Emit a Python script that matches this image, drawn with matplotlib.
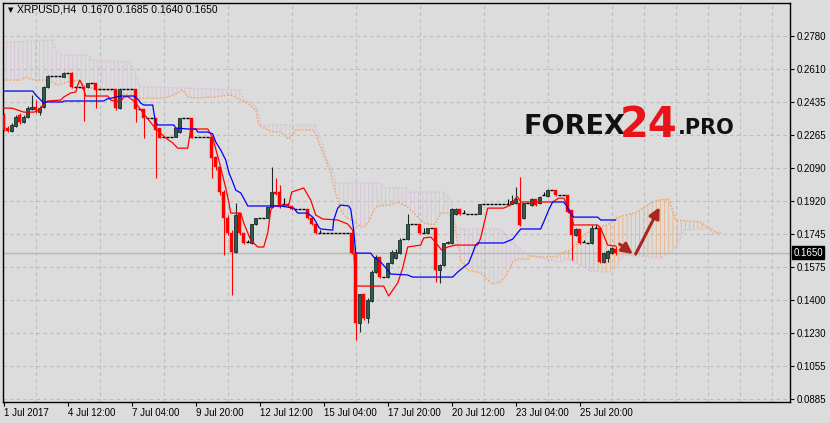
import numpy as np
import matplotlib.pyplot as plt
from matplotlib.transforms import blended_transform_factory

plt.rcParams['font.family'] = ['Liberation Sans', 'DejaVu Sans']
plt.rcParams['hatch.linewidth'] = 0.6

symbol = 'XRPUSD,H4'
last_ohlc = ['0.1670', '0.1685', '0.1640', '0.1650']
last_price = 0.1650

# H4 candles, bar 0 = 1 Jul 20:00
bar_open = [
    0.2369, 0.2301, 0.2285, 0.2311, 0.2369, 0.2332, 0.2358, 0.2400, 0.2411, 0.2385,
    0.2411, 0.2515, 0.2573, 0.2573, 0.2573, 0.2567, 0.2588, 0.2588, 0.2515, 0.2515,
    0.2515, 0.2515, 0.2536, 0.2536, 0.2505, 0.2505, 0.2505, 0.2505, 0.2505, 0.2405,
    0.2505, 0.2505, 0.2505, 0.2505, 0.2400, 0.2400, 0.2353, 0.2353, 0.2353, 0.2301,
    0.2254, 0.2254, 0.2254, 0.2254, 0.2280, 0.2353, 0.2353, 0.2353, 0.2254, 0.2254,
    0.2254, 0.2254, 0.2254, 0.2150, 0.2097, 0.1967, 0.1831, 0.1753, 0.1654, 0.1857,
    0.1753, 0.1706, 0.1701, 0.1800, 0.1831, 0.1831, 0.1831, 0.1888, 0.1967, 0.1967,
    0.1904, 0.1904, 0.1894, 0.1878, 0.1878, 0.1878, 0.1878, 0.1831, 0.1800, 0.1753,
    0.1753, 0.1753, 0.1753, 0.1753, 0.1753, 0.1753, 0.1753, 0.1753, 0.1648, 0.1283,
    0.1434, 0.1309, 0.1398, 0.1549, 0.1628, 0.1523, 0.1523, 0.1596, 0.1622, 0.1648,
    0.1722, 0.1722, 0.1800, 0.1800, 0.1800, 0.1753, 0.1753, 0.1779, 0.1779, 0.1560,
    0.1586, 0.1701, 0.1701, 0.1852, 0.1878, 0.1857, 0.1852, 0.1852, 0.1852, 0.1852,
    0.1904, 0.1904, 0.1904, 0.1904, 0.1904, 0.1904, 0.1904, 0.1904, 0.1909, 0.1909,
    0.1831, 0.1909, 0.1899, 0.1930, 0.1909, 0.1951, 0.1946, 0.1977, 0.1977, 0.1951,
    0.1951, 0.1951, 0.1873, 0.1742, 0.1774, 0.1706, 0.1701, 0.1701, 0.1779, 0.1779,
    0.1601, 0.1622, 0.1648, 0.1670,
]
bar_high = [
    0.2379, 0.2311, 0.2327, 0.2369, 0.2379, 0.2369, 0.2416, 0.2473, 0.2447, 0.2416,
    0.2520, 0.2578, 0.2573, 0.2573, 0.2573, 0.2593, 0.2588, 0.2593, 0.2515, 0.2515,
    0.2520, 0.2536, 0.2536, 0.2536, 0.2505, 0.2505, 0.2505, 0.2505, 0.2505, 0.2510,
    0.2505, 0.2505, 0.2505, 0.2505, 0.2400, 0.2400, 0.2353, 0.2353, 0.2353, 0.2301,
    0.2254, 0.2254, 0.2254, 0.2301, 0.2353, 0.2353, 0.2353, 0.2353, 0.2254, 0.2254,
    0.2254, 0.2254, 0.2254, 0.2150, 0.2097, 0.1977, 0.1847, 0.1768, 0.1909, 0.1857,
    0.1753, 0.1716, 0.1800, 0.1831, 0.1831, 0.1831, 0.1888, 0.2097, 0.2040, 0.2004,
    0.1935, 0.1909, 0.1894, 0.1878, 0.1878, 0.1878, 0.1878, 0.1831, 0.1800, 0.1768,
    0.1753, 0.1753, 0.1753, 0.1753, 0.1753, 0.1753, 0.1753, 0.1753, 0.1648, 0.1434,
    0.1434, 0.1413, 0.1560, 0.1638, 0.1628, 0.1523, 0.1601, 0.1664, 0.1669, 0.1727,
    0.1722, 0.1852, 0.1800, 0.1800, 0.1800, 0.1779, 0.1779, 0.1779, 0.1779, 0.1591,
    0.1701, 0.1711, 0.1883, 0.1883, 0.1878, 0.1873, 0.1852, 0.1852, 0.1852, 0.1904,
    0.1904, 0.1904, 0.1904, 0.1904, 0.1904, 0.1904, 0.1930, 0.1951, 0.1993, 0.2046,
    0.1909, 0.1909, 0.1935, 0.1930, 0.1946, 0.1967, 0.1982, 0.1977, 0.1977, 0.1951,
    0.1951, 0.1951, 0.1873, 0.1779, 0.1774, 0.1716, 0.1701, 0.1795, 0.1795, 0.1779,
    0.1654, 0.1664, 0.1680, 0.1685,
]
bar_low = [
    0.2285, 0.2280, 0.2280, 0.2306, 0.2322, 0.2327, 0.2353, 0.2395, 0.2379, 0.2369,
    0.2405, 0.2510, 0.2573, 0.2573, 0.2573, 0.2567, 0.2588, 0.2510, 0.2515, 0.2515,
    0.2338, 0.2510, 0.2536, 0.2405, 0.2505, 0.2505, 0.2505, 0.2505, 0.2395, 0.2400,
    0.2505, 0.2505, 0.2505, 0.2332, 0.2400, 0.2249, 0.2353, 0.2353, 0.2040, 0.2249,
    0.2254, 0.2254, 0.2254, 0.2254, 0.2275, 0.2353, 0.2353, 0.2249, 0.2254, 0.2254,
    0.2254, 0.2254, 0.2040, 0.2082, 0.1951, 0.1638, 0.1742, 0.1429, 0.1648, 0.1742,
    0.1695, 0.1706, 0.1695, 0.1795, 0.1831, 0.1831, 0.1831, 0.1883, 0.1951, 0.1883,
    0.1904, 0.1888, 0.1873, 0.1878, 0.1878, 0.1878, 0.1826, 0.1795, 0.1748, 0.1753,
    0.1753, 0.1753, 0.1753, 0.1753, 0.1753, 0.1753, 0.1753, 0.1643, 0.1194, 0.1236,
    0.1299, 0.1283, 0.1393, 0.1544, 0.1518, 0.1523, 0.1518, 0.1591, 0.1617, 0.1643,
    0.1722, 0.1716, 0.1800, 0.1800, 0.1748, 0.1753, 0.1748, 0.1779, 0.1497, 0.1492,
    0.1580, 0.1695, 0.1695, 0.1847, 0.1847, 0.1857, 0.1852, 0.1852, 0.1852, 0.1852,
    0.1904, 0.1904, 0.1904, 0.1904, 0.1904, 0.1904, 0.1904, 0.1904, 0.1904, 0.1790,
    0.1826, 0.1909, 0.1894, 0.1894, 0.1904, 0.1951, 0.1940, 0.1977, 0.1946, 0.1951,
    0.1951, 0.1857, 0.1612, 0.1737, 0.1695, 0.1706, 0.1701, 0.1695, 0.1779, 0.1596,
    0.1596, 0.1601, 0.1643, 0.1640,
]
bar_close = [
    0.2290, 0.2285, 0.2317, 0.2358, 0.2332, 0.2358, 0.2405, 0.2411, 0.2395, 0.2405,
    0.2515, 0.2573, 0.2573, 0.2573, 0.2573, 0.2588, 0.2588, 0.2515, 0.2515, 0.2515,
    0.2505, 0.2536, 0.2536, 0.2499, 0.2505, 0.2505, 0.2505, 0.2505, 0.2405, 0.2505,
    0.2505, 0.2505, 0.2505, 0.2400, 0.2400, 0.2353, 0.2353, 0.2353, 0.2290, 0.2249,
    0.2254, 0.2254, 0.2254, 0.2301, 0.2353, 0.2353, 0.2353, 0.2249, 0.2254, 0.2254,
    0.2254, 0.2254, 0.2144, 0.2097, 0.1967, 0.1831, 0.1753, 0.1654, 0.1847, 0.1753,
    0.1701, 0.1706, 0.1800, 0.1831, 0.1831, 0.1831, 0.1888, 0.1967, 0.1956, 0.1888,
    0.1904, 0.1894, 0.1878, 0.1878, 0.1878, 0.1878, 0.1831, 0.1800, 0.1753, 0.1753,
    0.1753, 0.1753, 0.1753, 0.1753, 0.1753, 0.1753, 0.1753, 0.1648, 0.1283, 0.1434,
    0.1309, 0.1403, 0.1549, 0.1628, 0.1523, 0.1523, 0.1596, 0.1654, 0.1654, 0.1716,
    0.1722, 0.1800, 0.1800, 0.1800, 0.1753, 0.1753, 0.1779, 0.1779, 0.1560, 0.1586,
    0.1701, 0.1706, 0.1878, 0.1878, 0.1852, 0.1857, 0.1852, 0.1852, 0.1852, 0.1904,
    0.1904, 0.1904, 0.1904, 0.1904, 0.1904, 0.1904, 0.1904, 0.1920, 0.1930, 0.1795,
    0.1909, 0.1909, 0.1930, 0.1899, 0.1940, 0.1951, 0.1977, 0.1977, 0.1951, 0.1951,
    0.1951, 0.1862, 0.1742, 0.1774, 0.1701, 0.1706, 0.1701, 0.1779, 0.1779, 0.1601,
    0.1648, 0.1659, 0.1674, 0.1650,
]

# Ichimoku lines (bar index, price)
tenkan_bar = [0, 2, 5, 7.5, 9, 9.75, 11, 14.25, 15, 16.75, 18, 18.5, 19, 19.75, 20.25, 20.5,
              26, 26.75, 28, 29.25, 30, 31, 32.25, 33, 34.25, 36.25, 38, 40.5, 42.25, 43.5,
              46, 46.75, 51, 52.25, 53.75, 55.5, 56.25, 56.75, 59.25, 60, 61.75, 63.5, 65,
              66, 66.75, 67.25, 71.25, 72, 75, 76.75, 78, 79.75, 83.5, 86, 87.25, 88, 95,
              96.25, 97.25, 98.5, 99.75, 101, 104.25, 105, 106.75, 107.5, 109.5, 111, 113,
              118.5, 119.25, 121, 125, 126.75, 128, 128.5, 129.25, 137.25, 138.75, 140,
              140.75, 141.75, 142.5, 148.5, 149.25, 151, 153]
tenkan_val = [0.2405, 0.2405, 0.2384, 0.2384, 0.2395, 0.2421, 0.2442, 0.2447, 0.2463, 0.2484,
              0.2489, 0.2525, 0.2551, 0.2520, 0.2484, 0.2468, 0.2468, 0.2447, 0.2440, 0.2440,
              0.2463, 0.2465, 0.2447, 0.2431, 0.2395, 0.2343, 0.2296, 0.2249, 0.2223, 0.2196,
              0.2196, 0.2296, 0.2296, 0.2249, 0.2134, 0.1988, 0.1915, 0.1857, 0.1857, 0.1805,
              0.1716, 0.1680, 0.1680, 0.1753, 0.1873, 0.1894, 0.1899, 0.1967, 0.1988, 0.1925,
              0.1847, 0.1826, 0.1821, 0.1800, 0.1768, 0.1476, 0.1476, 0.1424, 0.1455, 0.1492,
              0.1570, 0.1680, 0.1690, 0.1727, 0.1732, 0.1716, 0.1664, 0.1680, 0.1690, 0.1690,
              0.1727, 0.1883, 0.1883, 0.1899, 0.1935, 0.1941, 0.1915, 0.1915, 0.1935, 0.1935,
              0.1904, 0.1857, 0.1795, 0.1795, 0.1779, 0.1690, 0.1685]

kijun_bar = [0, 7.25, 8, 9.25, 10, 10.5, 14.75, 15, 25, 25.75, 29.25, 32.5, 33.75, 34.25, 35,
             37.25, 37.5, 38, 38.5, 42.5, 43, 46, 48, 48.5, 51, 52.25, 53, 54.25, 55.5, 56.25,
             57.25, 58, 59.25, 60.5, 61, 69.25, 72.5, 73.5, 76, 77.5, 78.75, 79.25, 82.25,
             82.5, 83.5, 84.25, 86.25, 86.75, 87.5, 88, 91.75, 92.5, 94.25, 96, 96.75, 101,
             102.25, 112.25, 113.5, 115, 116.25, 117.25, 118, 118.5, 125, 127.25, 129.25,
             134.25, 135, 136.25, 137.25, 140, 140.75, 141.5, 142.5, 148.5, 149.25, 153]
kijun_val = [0.2494, 0.2494, 0.2473, 0.2447, 0.2431, 0.2437, 0.2437, 0.2442, 0.2442, 0.2452,
             0.2468, 0.2468, 0.2447, 0.2431, 0.2421, 0.2421, 0.2384, 0.2327, 0.2317, 0.2317,
             0.2301, 0.2296, 0.2296, 0.2280, 0.2280, 0.2270, 0.2228, 0.2186, 0.2134, 0.2071,
             0.2019, 0.1977, 0.1962, 0.1915, 0.1894, 0.1894, 0.1883, 0.1857, 0.1857, 0.1831,
             0.1784, 0.1774, 0.1768, 0.1821, 0.1883, 0.1899, 0.1894, 0.1878, 0.1768, 0.1648,
             0.1648, 0.1627, 0.1601, 0.1560, 0.1539, 0.1534, 0.1523, 0.1523, 0.1549, 0.1575,
             0.1596, 0.1648, 0.1690, 0.1701, 0.1701, 0.1721, 0.1774, 0.1774, 0.1810, 0.1873,
             0.1915, 0.1915, 0.1894, 0.1862, 0.1836, 0.1836, 0.1821, 0.1821]

span_a_bar = [-1, 4.25, 5.5, 7.5, 11, 13.5, 16, 18.75, 20, 23.5, 26.25, 28.5, 31.75, 34.25,
              39.25, 41, 42.5, 44.75, 46, 48.5, 52.5, 56.75, 59.25, 61, 63, 63.75, 65.5, 67.5,
              69.25, 71.25, 72.25, 73, 77.5, 79.25, 80.5, 81.75, 82.5, 83.5, 84.25, 85.5, 87.5,
              89.25, 90, 91.25, 92.5, 93.5, 96.75, 98.5, 101, 103.5, 105, 107.5, 108.5, 109.25,
              111, 112.5, 113, 114.25, 116, 119.25, 121, 122.25, 124.25, 126, 127.25, 128.5,
              131, 131.75, 134.25, 138.5, 140, 141.75, 143, 145, 146.75, 148.5, 151, 153.5,
              158.5, 160, 161.75, 163.5, 166.25, 168, 174.25, 176, 178, 179.25]
span_a_val = [0.2551, 0.2551, 0.2567, 0.2551, 0.2551, 0.2525, 0.2541, 0.2551, 0.2525, 0.2499,
              0.2499, 0.2484, 0.2473, 0.2457, 0.2457, 0.2463, 0.2473, 0.2499, 0.2463, 0.2457,
              0.2463, 0.2473, 0.2447, 0.2431, 0.2395, 0.2317, 0.2296, 0.2280, 0.2280, 0.2243,
              0.2264, 0.2290, 0.2290, 0.2202, 0.2134, 0.2066, 0.1993, 0.1925, 0.1873, 0.1836,
              0.1815, 0.1784, 0.1784, 0.1810, 0.1873, 0.1894, 0.1899, 0.1915, 0.1888, 0.1836,
              0.1805, 0.1795, 0.1821, 0.1857, 0.1857, 0.1821, 0.1758, 0.1612, 0.1560, 0.1544,
              0.1507, 0.1486, 0.1497, 0.1544, 0.1601, 0.1617, 0.1617, 0.1633, 0.1627, 0.1633,
              0.1654, 0.1664, 0.1690, 0.1742, 0.1768, 0.1784, 0.1795, 0.1836, 0.1862, 0.1888,
              0.1909, 0.1925, 0.1930, 0.1821, 0.1810, 0.1784, 0.1758, 0.1753]

span_b_bar = [-1, 1, 12.5, 13, 14.75, 21.25, 21.75, 31.25, 32.5, 33.5, 34.25, 45, 59.25, 60,
              62.5, 63.5, 64.25, 78, 78.5, 79.75, 80.5, 81.75, 82.5, 83, 94.25, 95, 101,
              101.25, 110, 111.75, 113, 113.5, 124.25, 125.5, 128, 129.25, 131, 134.25, 138.5,
              141, 144.25, 146.75, 151, 151.75, 153.5, 155, 158.5, 164.25, 166.75, 168.5, 170,
              176, 177.25, 179.25]
span_b_val = [0.2750, 0.2750, 0.2760, 0.2708, 0.2682, 0.2682, 0.2656, 0.2645, 0.2614, 0.2541,
              0.2515, 0.2510, 0.2499, 0.2447, 0.2431, 0.2395, 0.2317, 0.2317, 0.2280, 0.2223,
              0.2149, 0.2097, 0.2066, 0.2014, 0.2014, 0.1988, 0.1988, 0.1967, 0.1967, 0.1925,
              0.1800, 0.1774, 0.1774, 0.1742, 0.1690, 0.1664, 0.1638, 0.1627, 0.1601, 0.1617,
              0.1586, 0.1554, 0.1549, 0.1549, 0.1586, 0.1638, 0.1633, 0.1622, 0.1654, 0.1690,
              0.1768, 0.1774, 0.1753, 0.1753]

# forecast arrows drawn on the chart: (bar, price) start -> end
arrow_down = [(154, 0.1695), (157.3, 0.1643)]
arrow_up = [(158, 0.1643), (164, 0.1888)]

time_ticks = [0, 16, 32, 48, 64, 80, 96, 112, 128, 144]
time_labels = ['1 Jul 2017', '4 Jul 12:00', '7 Jul 04:00', '9 Jul 20:00', '12 Jul 12:00',
               '15 Jul 04:00', '17 Jul 20:00', '20 Jul 12:00', '23 Jul 04:00', '25 Jul 20:00']
price_labels = ['0.0885', '0.1055', '0.1230', '0.1400', '0.1575', '0.1745', '0.1920',
                '0.2090', '0.2265', '0.2435', '0.2610', '0.2780']

BG = '#DCDCDC'
BULL = '#2F5C4D'
BULL_EDGE = '#1E2A28'
BEAR = '#FF0000'

fig = plt.figure(figsize=(8.3, 4.23), dpi=100, facecolor=BG)
ax = fig.add_axes([3 / 830, 21 / 423, 787 / 830, 399 / 423])
ax.set_facecolor(BG)

# cloud (hatched between span A and span B)
a_bar = np.array(span_a_bar); a_val = np.array(span_a_val)
b_bar = np.array(span_b_bar); b_val = np.array(span_b_val)
m_a = a_bar <= 141.75
m_b = b_bar <= 141
ax.fill(np.concatenate([a_bar[m_a], b_bar[m_b][::-1]]),
        np.concatenate([a_val[m_a], b_val[m_b][::-1]]),
        facecolor='none', edgecolor='#D6C4D6', hatch='||||', linewidth=0, zorder=1)
m_a = a_bar >= 140
m_b = b_bar >= 141
ax.fill(np.concatenate([a_bar[m_a], b_bar[m_b][::-1]]),
        np.concatenate([a_val[m_a], b_val[m_b][::-1]]),
        facecolor='none', edgecolor='#EFB486', hatch='||||', linewidth=0, zorder=1)
ax.plot(span_a_bar, span_a_val, color='#F4A460', lw=1.0, ls=(0, (1.2, 1.2)), zorder=2)
ax.plot(span_b_bar, span_b_val, color='#D8BFD8', lw=1.0, ls=(0, (1.2, 1.2)), zorder=2)

# current price line
ax.axhline(last_price, color='#B8B8B8', lw=1, zorder=2)

# candles
x = np.arange(len(bar_open))
o = np.array(bar_open); h = np.array(bar_high); l = np.array(bar_low); c = np.array(bar_close)
up = c > o
dn = c < o
fl = c == o
ax.vlines(x[up], l[up], h[up], color=BULL_EDGE, lw=0.8, zorder=4)
ax.bar(x[up], c[up] - o[up], bottom=o[up], width=0.75, color=BULL,
       edgecolor=BULL_EDGE, linewidth=0.6, zorder=5)
ax.vlines(x[dn], l[dn], h[dn], color=BEAR, lw=0.8, zorder=4)
ax.bar(x[dn], c[dn] - o[dn], bottom=o[dn], width=0.8, color=BEAR,
       edgecolor=BEAR, linewidth=0.3, zorder=5)
ax.vlines(x[fl], l[fl], h[fl], color='black', lw=0.8, zorder=4)
ax.hlines(o[fl], x[fl] - 0.4, x[fl] + 0.4, color='black', lw=1.0, zorder=5)

# tenkan / kijun
ax.plot(tenkan_bar, tenkan_val, color='#FF0000', lw=0.9, zorder=6)
ax.plot(kijun_bar, kijun_val, color='#0000FF', lw=0.9, zorder=6)

# arrows
for seg in (arrow_down, arrow_up):
    ax.annotate('', xy=seg[1], xytext=seg[0], zorder=7,
                arrowprops=dict(arrowstyle='-|>', color='#A8281F', lw=2.2,
                                mutation_scale=16, shrinkA=0, shrinkB=0))

# axes, ticks, grid
ax.set_xlim(-0.2, 196.6)
ax.set_ylim(0.08709, 0.29536)
price_ticks = np.linspace(0.0885, 0.2780, len(price_labels))
ax.set_yticks(price_ticks)
ax.set_yticklabels(price_labels)
ax.yaxis.tick_right()
ax.set_xticks(time_ticks)
ax.set_xticklabels(time_labels)
for t in ax.get_xticklabels():
    t.set_ha('left')
ax.set_xticks(np.arange(8, 196, 8), minor=True)
ax.tick_params(axis='both', which='major', labelsize=7, length=3, width=0.8,
               direction='out', colors='black', pad=1.5)
ax.tick_params(axis='x', which='minor', length=0)
ax.grid(True, axis='y', which='major', color='#BDBDBD', lw=0.8, ls=(0, (3, 3)), zorder=0)
ax.grid(True, axis='x', which='minor', color='#BDBDBD', lw=0.8, ls=(0, (3, 3)), zorder=0)
ax.set_axisbelow(True)
for s in ax.spines.values():
    s.set_color('black')
    s.set_linewidth(1)

# last price tag
tr = blended_transform_factory(ax.transAxes, ax.transData)
ax.text(1.004, last_price, last_ohlc[3], transform=tr, ha='left', va='center',
        fontsize=7, color='white',
        bbox=dict(boxstyle='square,pad=0.15', fc='black', ec='black'))

# header
fig.text(8 / 830, 1 - 10 / 423, '\u25bc', fontsize=5, va='center', ha='left',
         family=['DejaVu Sans'])
fig.text(17 / 830, 1 - 10 / 423, symbol + '  ' + ' '.join(last_ohlc),
         fontsize=7.5, va='center', ha='left')

# watermark
fig.text(523 / 830, 1 - 134 / 423, 'FOREX', fontsize=19.5, fontweight='heavy',
         family=['DejaVu Sans'], color='#111111', va='baseline', ha='left')
fig.text(620 / 830, 1 - 137 / 423, '24', fontsize=30, fontweight='heavy',
         family=['DejaVu Sans'], color='#E8141A', va='baseline', ha='left')
fig.text(678 / 830, 1 - 134 / 423, '.PRO', fontsize=15, fontweight='heavy',
         family=['DejaVu Sans'], color='#111111', va='baseline', ha='left')

fig.savefig('out.png', dpi=100, facecolor=BG)
